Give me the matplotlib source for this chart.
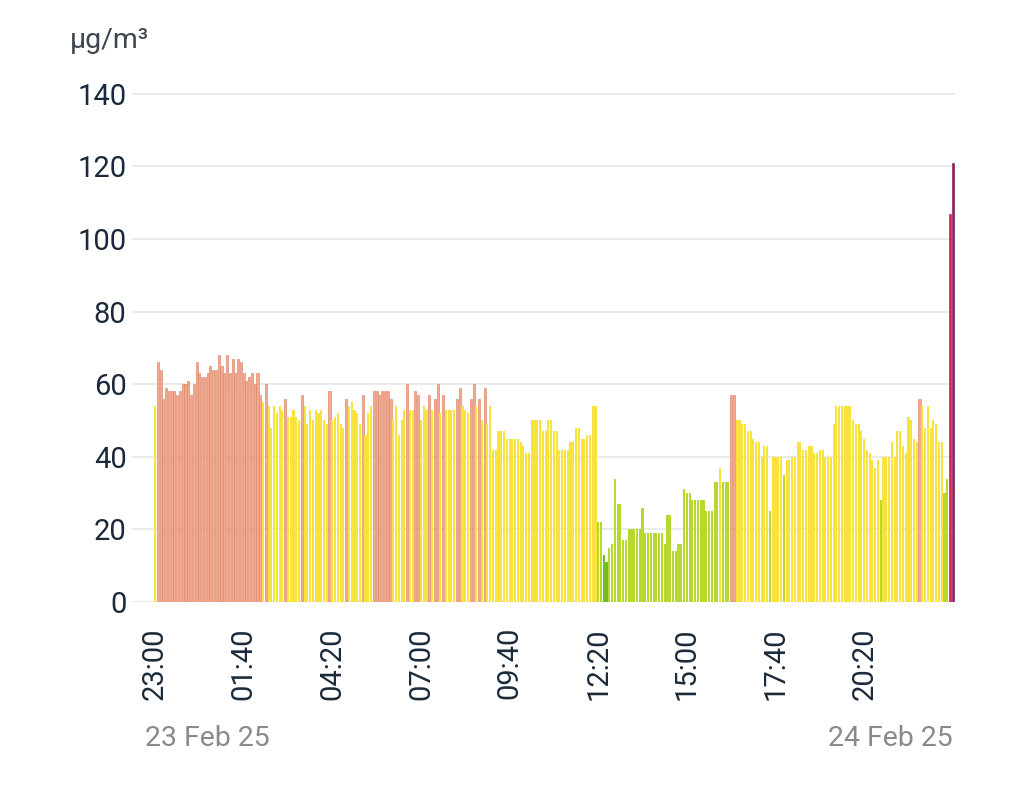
import matplotlib.pyplot as plt
import numpy as np

plt.rcParams['font.family'] = ['Roboto', 'DejaVu Sans']

# PM values, one bar every 5 minutes from 23:00 (23 Feb) to 23:00 (24 Feb)
pm_a = [54, 66, 64, 56, 59, 58, 58, 58, 57, 58, 60, 60, 61, 57, 60, 66, 63, 62,
        62, 63, 65, 64, 64, 68, 65, 63, 68, 63, 67, 63, 67, 66, 63, 61, 62, 63]
pm_b = [60, 63, 57, 55, 60, 54, 48, 54, 52, 54, 53, 56, 51, 51, 53, 51, 50, 57,
        54, 49, 53, 50, 53, 52, 53, 50, 49, 58, 50, 51, 52, 49, 48, 56, 54]
pm_c = [55, 53, 52, 49, 57, 46, 52, 54, 58, 58, 57, 58, 58, 58, 56, 50, 54, 46,
        50, 53, 60, 53, 53, 58, 57, 50, 54, 53, 57, 53, 56, 60, 52, 57, 53, 53]
pm_d = [53, 53, 56, 59, 54, 53, 52, 56, 60, 54, 56, 50, 59, 49, 54, 42, 42, 47,
        47, 47, 45, 45, 45, 45, 45, 44, 43, 41, 41, 50, 50, 50, 50, 47, 47, 50]
pm_e = [50, 47, 47, 42, 42, 42, 42, 44, 44, 48, 48, 45, 45, 46, 46, 54, 54]
pm_f = [22, 22, 13, 11, 15, 16, 34, 27, 27, 17, 17, 20, 20, 20, 20, 20, 26, 19,
        19, 19, 19, 19, 19, 19, 16, 24, 24, 14, 14, 16, 16, 31, 30, 30, 28, 28,
        28, 28, 28, 25, 25, 25, 33, 33, 37, 33, 33, 33, 57, 57, 50, 50, 49, 49,
        47, 47]
pm_g = [45, 44, 44, 40, 43, 43, 25, 40, 40, 40, 40, 35, 39, 39, 40, 40, 44, 44,
        42, 42, 43, 43, 41, 41, 42, 42, 40, 40, 40, 49, 54, 54, 54, 54, 54, 54,
        50, 49, 49, 47, 45, 42, 41, 39, 37, 39, 28, 40, 40, 40, 44, 40, 47, 47,
        43, 41, 51, 50, 45, 44, 56, 54, 48, 54, 48, 50, 49, 44, 44, 30, 34, 107,
        121]
values = np.array(pm_a + pm_b + pm_c + pm_d + pm_e + pm_f + pm_g)

tick_labels = ['23:00', '01:40', '04:20', '07:00', '09:40', '12:20', '15:00',
               '17:40', '20:20']
ticks_every = 32   # 160 minutes


def bar_colour(v):
    # face, edge, edge width
    if v >= 110:
        return '#96185e', '#7a1450', 0.4
    if v >= 100:
        return '#d8224f', '#a8183c', 0.4
    if v >= 56:
        return '#f4a88e', '#db8568', 0.45
    if v >= 36:
        return '#f7e23e', '#f7e23e', 0.0
    if v >= 14:
        return '#b6d92f', '#b6d92f', 0.0
    return '#74bd1e', '#74bd1e', 0.0


faces, edges, widths = zip(*[bar_colour(v) for v in values])
x = np.arange(len(values))

fig = plt.figure(figsize=(10.11, 8), dpi=100)
ax = fig.add_axes([0.1306, 0.2475, 0.814, 0.6398])

ax.bar(x, values, width=0.76, color=faces, edgecolor=edges, linewidth=widths,
       zorder=3)

ax.set_xlim(-8.3, 288.8)
ax.set_ylim(0, 141)
ax.set_yticks(np.arange(0, 141, 20))
ax.set_xticks(np.arange(len(tick_labels)) * ticks_every)
ax.set_xticklabels(tick_labels, rotation=90)
ax.grid(axis='y', color='#ebebeb', linewidth=1.4, zorder=0)
for s in ax.spines.values():
    s.set_visible(False)
ax.tick_params(axis='y', length=0, pad=4, labelsize=21, labelcolor='#1b2a3a')
ax.tick_params(axis='x', length=0, pad=18, labelsize=21, labelcolor='#1b2a3a')

fig.text(70 / 1011, 1 - 41 / 800, 'µg/m³', fontsize=20.5, color='#3c4650',
         va='center', ha='left')
fig.text(145 / 1011, 1 - 738 / 800, '23 Feb 25', fontsize=20.5,
         color='#8a8a8a', va='center', ha='left')
fig.text(953 / 1011, 1 - 738 / 800, '24 Feb 25', fontsize=20.5,
         color='#8a8a8a', va='center', ha='right')

plt.savefig('out.png', dpi=100)
